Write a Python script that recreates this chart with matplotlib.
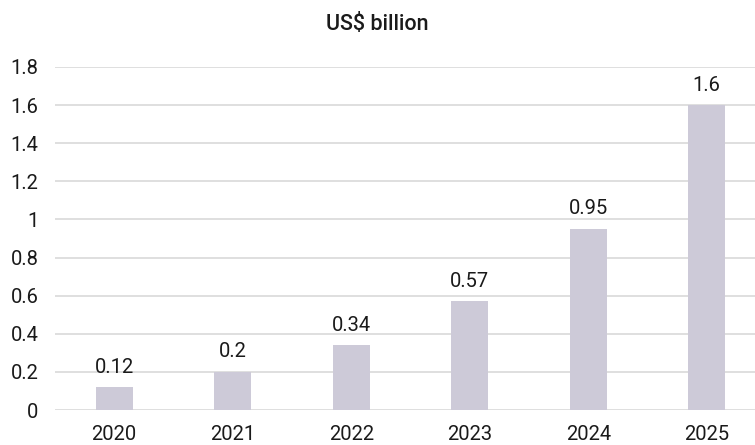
import matplotlib
matplotlib.use("Agg")
import matplotlib.pyplot as plt

years = ["2020", "2021", "2022", "2023", "2024", "2025"]
values = [0.12, 0.2, 0.34, 0.57, 0.95, 1.6]
labels = ["0.12", "0.2", "0.34", "0.57", "0.95", "1.6"]
yticks = [0, 0.2, 0.4, 0.6, 0.8, 1.0, 1.2, 1.4, 1.6, 1.8]
ytick_labels = ["0", "0.2", "0.4", "0.6", "0.8", "1", "1.2", "1.4", "1.6", "1.8"]

plt.rcParams['font.family'] = ['Roboto', 'DejaVu Sans']
text_color = "#1a1a1a"
fs = 14.5

fig = plt.figure(figsize=(7.55, 4.45), dpi=100)
ax = fig.add_axes([55/755, 1-410/445, 711/755, (410-67)/445])

x = list(range(len(years)))
ax.bar(x, values, width=0.315, color="#cdcad8", zorder=2)
for xi, v, lab in zip(x, values, labels):
    ax.text(xi, v + 0.055, lab, ha="center", va="bottom", fontsize=fs, color=text_color)

ax.set_xlim(-0.5, 5.5)
ax.set_ylim(0, 1.8)
ax.set_yticks(yticks)
ax.set_yticklabels(ytick_labels)
ax.set_xticks(x)
ax.set_xticklabels(years)
ax.tick_params(axis='both', length=0, labelsize=fs, colors=text_color)
ax.tick_params(axis='y', pad=12)
ax.tick_params(axis='x', pad=11)
ax.grid(axis='y', color="#d9d9d9", linewidth=1.2, zorder=0)
ax.set_axisbelow(True)
for s in ax.spines.values():
    s.set_visible(False)

fig.text(0.5, 1-25/445, "US$ billion", ha="center", va="center", fontsize=15.5,
         fontweight="medium", color=text_color)

fig.savefig("out.png", dpi=100)
